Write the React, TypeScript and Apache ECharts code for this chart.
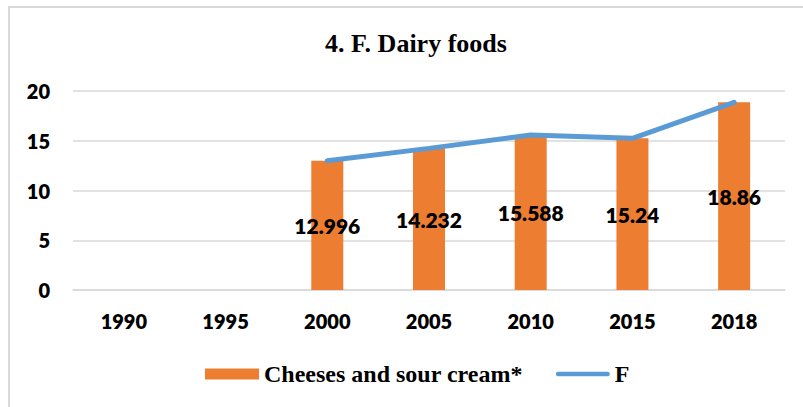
import React, { useEffect, useRef } from "react";
import * as echarts from "echarts";

const categories = ["1990", "1995", "2000", "2005", "2010", "2015", "2018"];
const barValues: (number | string)[] = ["-", "-", 12.996, 14.232, 15.588, 15.24, 18.86];
const lineValues: (number | string)[] = ["-", "-", 12.996, 14.232, 15.588, 15.24, 18.86];
const titleText = "4. F. Dairy foods";
const barName = "Cheeses and sour cream*";
const lineName = "F";

export default function App() {
  const ref = useRef<HTMLDivElement>(null);
  useEffect(() => {
    if (!ref.current) return;
    const chart = echarts.init(ref.current, undefined, { renderer: "svg" });
    const axisFont = { fontFamily: "Lato", fontWeight: 800, fontSize: 20, color: "#000" };
    chart.setOption({
      animation: false,
      backgroundColor: "#fff",
      title: {
        text: titleText,
        left: 411,
        textAlign: "center",
        top: 25,
        textStyle: { fontFamily: "Liberation Serif", fontWeight: "bold", fontSize: 26, color: "#000" },
      },
      graphic: [
        { type: "line", shape: { x1: 9, y1: 7, x2: 9, y2: 407 }, style: { stroke: "#d9d9d9", lineWidth: 2 } },
        { type: "line", shape: { x1: 8, y1: 7, x2: 803, y2: 7 }, style: { stroke: "#d9d9d9", lineWidth: 2 } },
      ],
      grid: { left: 73, right: 18, top: 91, bottom: 117, containLabel: false },
      legend: {
        left: 200,
        top: 357,
        itemWidth: 54,
        itemHeight: 11,
        itemGap: 33,
        data: [
          { name: barName, icon: "rect" },
          { name: lineName, icon: "path://M2.5,0 L54.5,0 A2.5,2.5 0 0 1 54.5,5 L2.5,5 A2.5,2.5 0 0 1 2.5,0 Z" },
        ],
        textStyle: { fontFamily: "Liberation Serif", fontWeight: "bold", fontSize: 24, color: "#000" },
      },
      xAxis: {
        type: "category",
        data: categories,
        axisLine: { show: true, lineStyle: { color: "#d9d9d9", width: 1.5 } },
        axisTick: { show: false },
        axisLabel: { ...axisFont, margin: 21 },
      },
      yAxis: {
        type: "value",
        min: 0,
        max: 20,
        interval: 5,
        axisLine: { show: false },
        axisTick: { show: false },
        splitLine: { lineStyle: { color: "#d9d9d9", width: 1.5 } },
        axisLabel: { ...axisFont, margin: 23 },
      },
      series: [
        {
          name: barName,
          type: "bar",
          data: barValues,
          barWidth: 32,
          itemStyle: { color: "#ED7D31" },
          label: {
            show: true,
            position: "inside",
            fontFamily: "Lato",
            fontWeight: 800,
            fontSize: 21,
            color: "#000",
          },
        },
        {
          name: lineName,
          type: "line",
          data: lineValues,
          symbol: "none",
          lineStyle: { color: "#5B9BD5", width: 5, cap: "round" },
          itemStyle: { color: "#5B9BD5" },
          z: 5,
        },
      ],
    });
    return () => chart.dispose();
  }, []);
  return (
    <div
      ref={ref}
      style={{ position: "fixed", left: 0, top: 0, width: 803, height: 407 }}
    />
  );
}
